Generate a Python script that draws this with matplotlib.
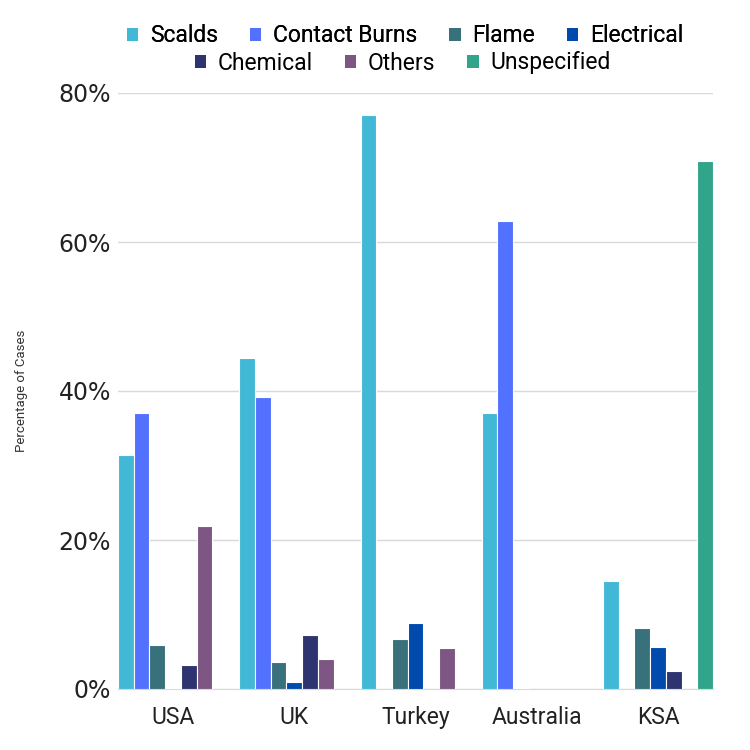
import matplotlib.pyplot as plt
import numpy as np
from matplotlib.patches import Patch


COUNTRIES = ["USA", "UK", "Turkey", "Australia", "KSA"]
CATEGORIES = ["Scalds", "Contact Burns", "Flame", "Electrical",
              "Chemical", "Others", "Unspecified"]
COLORS = ["#41b8d5", "#5271ff", "#38717c", "#004aad",
          "#2e3470", "#7d5683", "#31a58a"]

# percentage of cases, one list per category (order of COUNTRIES)
scalds = [31.4, 44.4, 77.0, 37.0, 14.5]
contact_burns = [37.1, 39.2, 0.0, 62.8, 0.0]
flame = [5.9, 3.6, 6.7, 0.2, 8.2]
electrical = [0.1, 0.9, 8.9, 0.0, 5.7]
chemical = [3.2, 7.3, 0.0, 0.05, 2.4]
others = [21.9, 4.0, 5.5, 0.05, 0.0]
unspecified = [0.0, 0.0, 0.0, 0.0, 70.9]

SERIES = [scalds, contact_burns, flame, electrical, chemical, others, unspecified]
Y_TICKS = [0, 20, 40, 60, 80]

LABEL_FONT = ["Roboto", "DejaVu Sans"]
NUM_FONT = ["DejaVu Sans"]


def main():
    fig = plt.figure(figsize=(7.5, 7.5), dpi=100)
    ax = fig.add_axes([118 / 750, 61 / 750, 595 / 750, 596 / 750])

    x = np.arange(len(COUNTRIES))
    slot = 0.907 / len(SERIES)
    for i, (vals, color) in enumerate(zip(SERIES, COLORS)):
        offset = (i - (len(SERIES) - 1) / 2) * slot
        ax.bar(x + offset, vals, width=slot, color=color,
               edgecolor="white", linewidth=0.8, zorder=3)

    ax.set_xlim(-0.4535, len(COUNTRIES) - 1 + 0.4535)
    ax.set_ylim(0, 80)
    ax.set_yticks(Y_TICKS)
    ax.set_yticklabels([f"{v}%" for v in Y_TICKS], fontsize=17,
                       fontfamily=NUM_FONT, color="#222222")
    ax.set_xticks(x)
    ax.set_xticklabels(COUNTRIES, fontsize=16.5, fontfamily=LABEL_FONT,
                       color="#222222")
    ax.tick_params(axis="both", length=0)
    ax.tick_params(axis="y", pad=5)
    ax.tick_params(axis="x", pad=12)
    ax.set_ylabel("Percentage of Cases", fontsize=9.5, color="#333333",
                  labelpad=22, fontfamily=LABEL_FONT)

    ax.grid(axis="y", color="#d9d9d9", linewidth=1, zorder=0)
    for side in ("top", "right", "left"):
        ax.spines[side].set_visible(False)
    ax.spines["bottom"].set_color("#d9d9d9")

    handles = [Patch(facecolor=c, edgecolor="none") for c in COLORS]
    legend_kw = dict(frameon=False, handlelength=0.5,
                     handleheight=0.5, handletextpad=0.5, columnspacing=1.4,
                     prop={"family": LABEL_FONT, "size": 16.5})
    leg1 = fig.legend(handles[:4], CATEGORIES[:4], ncol=4, loc="center",
                      bbox_to_anchor=(0.54, 1 - 36 / 750), **legend_kw)
    fig.legend(handles[4:], CATEGORIES[4:], ncol=3, loc="center",
               bbox_to_anchor=(0.537, 1 - 63 / 750), **legend_kw)
    fig.add_artist(leg1)

    fig.savefig("out.png", dpi=100)


if __name__ == "__main__":
    main()
